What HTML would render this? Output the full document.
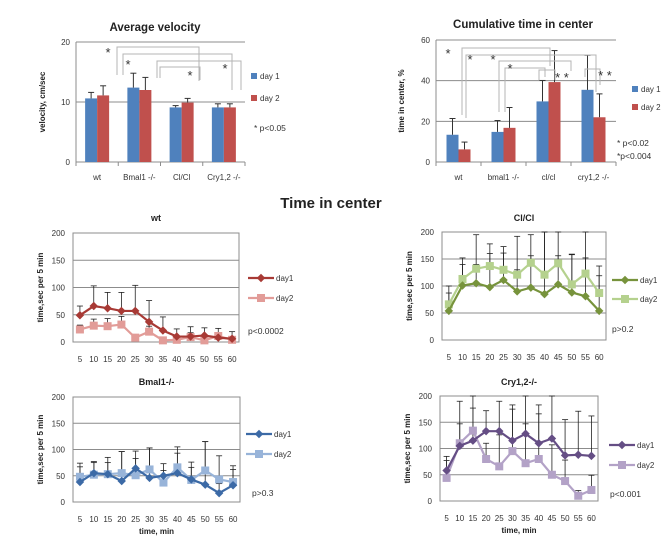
<!DOCTYPE html>
<html><head><meta charset="utf-8">
<style>
html,body{margin:0;padding:0;background:#fff;}
svg{display:block;font-family:"Liberation Sans",sans-serif;}
</style></head>
<body>
<svg id="fig" width="672" height="539" viewBox="0 0 672 539" xmlns="http://www.w3.org/2000/svg">
<text x="331" y="208" text-anchor="middle" font-size="15" font-weight="bold" fill="#222">Time in center</text>
</svg>
<script>
// ---- Bar chart data ----
const velCategories = ["wt", "Bmal1 -/-", "Cl/Cl", "Cry1,2 -/-"];
const velDay1 = [10.6, 12.4, 9.1, 9.1];
const velDay2 = [11.1, 12.0, 9.9, 9.1];
const velErr1 = [1.0, 2.4, 0.3, 0.6];
const velErr2 = [1.6, 2.1, 0.7, 0.6];
const velTicks = [0, 10, 20];

const cumCategories = ["wt", "bmal1 -/-", "cl/cl", "cry1,2 -/-"];
const cumDay1 = [13.4, 14.8, 29.8, 35.5];
const cumDay2 = [6.2, 16.8, 39.3, 22.0];
const cumErr1 = [8.0, 5.6, 10.3, 17.0];
const cumErr2 = [3.6, 10.0, 15.5, 11.5];
const cumTicks = [0, 20, 40, 60];

// ---- Line chart data ----
const timeCategories = [5,10,15,20,25,30,35,40,45,50,55,60];
const lineTicks = [0, 50, 100, 150, 200];
const wtDay1 = [49,66,62,57,57,37,21,10,10,12,8,6];
const wtDay2 = [23,30,29,32,8,19,3,4,9,3,11,4];
const wtErr1 = [17,37,29,34,47,39,25,14,18,14,17,13];
const wtErr2 = [8,12,14,15,4,10,3,3,8,4,6,4];
const clDay1 = [54,101,105,98,111,90,97,85,103,88,81,54];
const clDay2 = [66,113,132,137,130,121,143,121,142,103,123,87];
const clErr1 = [33,39,35,62,50,40,59,130,53,70,71,65];
const clErr2 = [34,39,63,41,43,71,52,90,70,56,90,50];
const bmDay1 = [38,55,53,40,64,46,50,55,43,33,17,32];
const bmDay2 = [48,52,53,55,51,62,37,66,42,60,43,38];
const bmErr1 = [29,20,22,56,19,57,10,38,23,82,18,30];
const bmErr2 = [26,25,32,41,46,41,36,39,34,55,45,31];
const cryDay1 = [58,105,115,133,133,115,128,110,119,87,88,86];
const cryDay2 = [44,110,134,80,66,95,72,80,50,38,10,21];
const cryErr1 = [27,85,90,39,57,68,72,73,90,68,83,76];
const cryErr2 = [33,37,43,30,60,80,75,86,57,40,10,28];

const NS = "http://www.w3.org/2000/svg";
const svg = document.getElementById("fig");
function el(tag, attrs, parent, text) {
  const e = document.createElementNS(NS, tag);
  for (const k in attrs) e.setAttribute(k, attrs[k]);
  if (text !== undefined) e.textContent = text;
  (parent || svg).appendChild(e);
  return e;
}

function barChart(o) {
  const g = el("g", {});
  
  
  const ymax = o.ticks[o.ticks.length - 1];
  const yS = v => o.y0 - (v / ymax) * (o.y0 - o.y1);
  const bw = (o.x1 - o.x0) / o.cats.length;
  const xC = i => o.x0 + bw * (i + 0.5);
  o.ticks.forEach(t => {
    if (t > 0) {
      const ln = el("line", {x1:o.x0, x2:o.x1, y1:yS(t), y2:yS(t), stroke:"#8c8c8c", "stroke-width":1}, g);
      
      
    }
    const tl = el("text", {x:o.x0 - 6, y:yS(t) + 3, "text-anchor":"end", "font-size":8, fill:"#333"}, g, t);
    
    
  });
  el("line", {x1:o.x0, x2:o.x0, y1:o.y1, y2:o.y0, stroke:"#8c8c8c"}, g);
  el("line", {x1:o.x0, x2:o.x1, y1:o.y0, y2:o.y0, stroke:"#8c8c8c"}, g);
  for (let i = 0; i <= o.cats.length; i++) el("line", {x1:o.x0 + bw*i, x2:o.x0 + bw*i, y1:o.y0, y2:o.y0 + 4, stroke:"#8c8c8c"}, g);
  const w = 12;
  o.cats.forEach((c, i) => {
    [[o.d1, o.e1, "#4F81BD", -w], [o.d2, o.e2, "#C0504D", 0]].forEach(([d, e, col, off], s) => {
      const x = xC(i) + off;
      const b = el("rect", {x:x, y:yS(d[i]), width:w, height:o.y0 - yS(d[i]), fill:col}, g);
      
      
      const top = yS(d[i] + e[i]);
      el("line", {x1:x + w/2, x2:x + w/2, y1:yS(d[i]), y2:top, stroke:"#333"}, g);
      el("line", {x1:x + w/2 - 3, x2:x + w/2 + 3, y1:top, y2:top, stroke:"#333"}, g);
    });
    const xl = el("text", {x:xC(i), y:o.y0 + 18, "text-anchor":"middle", "font-size":8, fill:"#333"}, g, c);
    
    
  });
  const t = el("text", {x:o.tx, y:o.ty, "text-anchor":"middle", "font-size":11.5, "font-weight":"bold", fill:"#222"}, g, o.title);
  
  
  const yl = el("text", {x:0, y:0, transform:`translate(${o.ylx},${(o.y0+o.y1)/2}) rotate(-90)`, "text-anchor":"middle", "font-size":8, "font-weight":"bold", fill:"#222"}, g, o.ylabel);
  
  
  [["day 1", "#4F81BD", o.ly1], ["day 2", "#C0504D", o.ly2]].forEach(([lab, col, ly]) => {
    const le = el("g", {}, g);
    
    
    el("rect", {x:o.lx, y:ly - 6, width:6, height:6, fill:col}, le);
    el("text", {x:o.lx + 9, y:ly, "font-size":8, fill:"#333"}, le, lab);
  });
  return g;
}

barChart({name:"average-velocity-chart", cats:velCategories, d1:velDay1, d2:velDay2, e1:velErr1, e2:velErr2, ticks:velTicks,
  x0:76, x1:245, y0:162, y1:42, title:"Average velocity", tx:155, ty:31, ylabel:"velocity, cm/sec", ylx:45, lx:251, ly1:79, ly2:101});
barChart({name:"cumulative-time-chart", cats:cumCategories, d1:cumDay1, d2:cumDay2, e1:cumErr1, e2:cumErr2, ticks:cumTicks,
  x0:436, x1:616, y0:162, y1:40, title:"Cumulative time in center", tx:523, ty:28, ylabel:"time in center, %", ylx:404, lx:632, ly1:92, ly2:110});

// significance annotations
const ann = el("g", {fill:"none", stroke:"#b4b4b4", "stroke-width":1});


["M117,75V47H199V81","M123,75V54H232V90","M157,78V61H241V90","M160,78V67H200V80",
 "M462,115V48H550V66","M466,118V55H596V92","M499,112V61H571V71","M505,112V68H545V77","M539,80V70H555V80","M585,77V69H600V85"]
 .forEach(d => el("path", {d:d}, ann));
[[108,57],[128,69],[190,80],[225,73],[448,58],[470,64],[493,64],[510,73],[562,82],[605,80]].forEach(([x,y],i) => {
  const s = el("text", {x:x, y:y, "font-size":13, fill:"#333", "text-anchor":"middle"}, svg, i >= 8 ? "* *" : "*");
  
  
});
[["* p<0.05",254,131],["* p<0.02",617,146],["*p<0.004",617,159]].forEach(([t,x,y]) => {
  const s = el("text", {x:x, y:y, "font-size":8.5, fill:"#333"}, svg, t);
  
  
});

function lineChart(o) {
  const g = el("g", {});
  
  
  const ymax = lineTicks[lineTicks.length - 1];
  const yS = v => o.y0 - (Math.min(v, ymax) / ymax) * (o.y0 - o.y1);
  const step = (o.x1 - o.x0) / timeCategories.length;
  const xS = i => o.x0 + step * (i + 0.5);
  lineTicks.forEach(t => {
    if (t > 0) el("line", {x1:o.x0, x2:o.x1, y1:yS(t), y2:yS(t), stroke:"#8c8c8c"}, g);
    const tl = el("text", {x:o.x0 - 8, y:yS(t) + 3, "text-anchor":"end", "font-size":8, fill:"#333"}, g, t);
    
    
  });
  el("rect", {x:o.x0, y:o.y1, width:o.x1 - o.x0, height:o.y0 - o.y1, fill:"none", stroke:"#8c8c8c"}, g);
  timeCategories.forEach((c, i) => {
    const xl = el("text", {x:xS(i), y:o.y0 + 20, "text-anchor":"middle", "font-size":8, fill:"#333"}, g, c);
    
    
  });
  [[o.d1, o.e1, o.c1, 0], [o.d2, o.e2, o.c2, 1]].forEach(([d, e, col, s]) => {
    d.forEach((v, i) => {
      const top = yS(v + e[i]);
      el("line", {x1:xS(i), x2:xS(i), y1:yS(v), y2:top, stroke:"#222", "stroke-width":0.8}, g);
      el("line", {x1:xS(i) - 3, x2:xS(i) + 3, y1:top, y2:top, stroke:"#222", "stroke-width":0.8}, g);
    });
  });
  [[o.d2, o.c2, 1], [o.d1, o.c1, 0]].forEach(([d, col, s]) => {
    const ln = el("polyline", {points:d.map((v, i) => xS(i) + "," + yS(v)).join(" "), fill:"none", stroke:col, "stroke-width":2.2}, g);
    
    
    d.forEach((v, i) => {
      let p;
      if (s === 0) p = el("rect", {x:xS(i) - 3, y:yS(v) - 3, width:6, height:6, fill:col, transform:`rotate(45 ${xS(i)} ${yS(v)})`}, g);
      else p = el("rect", {x:xS(i) - 4, y:yS(v) - 4, width:8, height:8, fill:col}, g);
      
      
    });
  });
  const t = el("text", {x:(o.x0 + o.x1) / 2, y:o.ty, "text-anchor":"middle", "font-size":9, "font-weight":"bold", fill:"#222"}, g, o.title);
  
  
  const yl = el("text", {x:0, y:0, transform:`translate(${o.x0 - 30},${(o.y0 + o.y1) / 2}) rotate(-90)`, "text-anchor":"middle", "font-size":8, "font-weight":"bold", fill:"#222"}, g, "time,sec per 5 min");
  
  
  if (o.xlabel) {
    const xt = el("text", {x:(o.x0 + o.x1) / 2, y:o.y0 + 32, "text-anchor":"middle", "font-size":8, "font-weight":"bold", fill:"#222"}, g, "time, min");
    
    
  }
  [["day1", o.c1, o.ly1, 0], ["day2", o.c2, o.ly2, 1]].forEach(([lab, col, ly, s]) => {
    const le = el("g", {}, g);
    
    
    el("line", {x1:o.lx, x2:o.lx + 26, y1:ly, y2:ly, stroke:col, "stroke-width":2.2}, le);
    if (s === 0) el("rect", {x:o.lx + 10, y:ly - 3, width:6, height:6, fill:col, transform:`rotate(45 ${o.lx + 13} ${ly})`}, le);
    else el("rect", {x:o.lx + 9, y:ly - 4, width:8, height:8, fill:col}, le);
    el("text", {x:o.lx + 28, y:ly + 3, "font-size":8, fill:"#333"}, le, lab);
  });
  const p = el("text", {x:o.px, y:o.py, "font-size":8.5, fill:"#333"}, g, o.pval);
  
  
}

lineChart({name:"wt-line-chart", title:"wt", d1:wtDay1, d2:wtDay2, e1:wtErr1, e2:wtErr2, c1:"#A83A35", c2:"#E29C98",
  x0:73, x1:239, y0:342, y1:233, ty:221, lx:248, ly1:278, ly2:298, px:248, py:334, pval:"p<0.0002"});
lineChart({name:"clcl-line-chart", title:"Cl/Cl", d1:clDay1, d2:clDay2, e1:clErr1, e2:clErr2, c1:"#77933C", c2:"#B5D18E",
  x0:442, x1:606, y0:340, y1:232, ty:221, lx:612, ly1:280, ly2:299, px:612, py:332, pval:"p>0.2"});
lineChart({name:"bmal1-line-chart", title:"Bmal1-/-", d1:bmDay1, d2:bmDay2, e1:bmErr1, e2:bmErr2, c1:"#3C6AA6", c2:"#98B4D9",
  x0:73, x1:240, y0:502, y1:397, ty:385, lx:246, ly1:434, ly2:454, px:252, py:496, pval:"p>0.3", xlabel:true});
lineChart({name:"cry-line-chart", title:"Cry1,2-/-", d1:cryDay1, d2:cryDay2, e1:cryErr1, e2:cryErr2, c1:"#654E85", c2:"#B3A2C7",
  x0:440, x1:598, y0:501, y1:396, ty:385, lx:609, ly1:445, ly2:465, px:610, py:497, pval:"p<0.001", xlabel:true});
</script>
</body></html>
